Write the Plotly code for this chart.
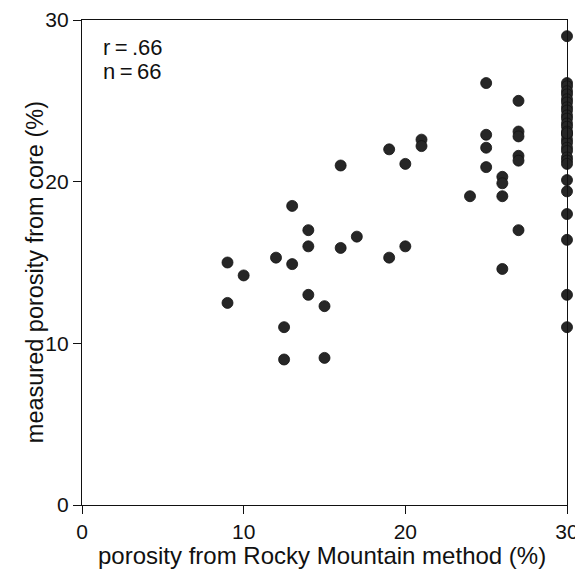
import plotly.graph_objects as go

# Rocky Mountain method porosity (x) and measured core porosity (y)
rocky_x = [9, 9, 10, 12, 12.5, 12.5, 13, 13, 14, 14, 14, 15, 15, 16, 16, 17,
           19, 19, 20, 20, 21, 21, 24, 25, 25, 25, 25, 26, 26, 26, 26,
           27, 27, 27, 27, 27, 27]
core_y = [15.0, 12.5, 14.2, 15.3, 11.0, 9.0, 18.5, 14.9, 17.0, 16.0, 13.0, 12.3, 9.1,
          21.0, 15.9, 16.6, 22.0, 15.3, 21.1, 16.0, 22.6, 22.2, 19.1,
          26.1, 22.9, 22.1, 20.9, 20.3, 19.9, 19.1, 14.6,
          25.0, 23.1, 22.8, 21.6, 21.3, 17.0]

# column of samples at 30 %
col30_y = [29.0, 26.1, 25.9, 25.6, 25.4, 25.1, 24.9, 24.6, 24.4, 24.1, 23.9,
           23.6, 23.4, 23.1, 22.9, 22.6, 22.4, 22.1, 21.9, 21.5, 21.3, 21.1,
           20.1, 19.4, 18.0, 16.4, 13.0, 11.0, 23.0]
col30_x = [30] * len(col30_y)

all_x = rocky_x + col30_x
all_y = core_y + col30_y

x_ticks = [0, 10, 20, 30]
y_ticks = [0, 10, 20, 30]

x_title = "porosity from Rocky Mountain method (%)"
y_title = "measured porosity from core (%)"
stats = ["r\u2009=\u2009.66", "n\u2009=\u200966"]

fig = go.Figure()
fig.add_trace(go.Scatter(
    x=all_x, y=all_y, mode="markers",
    marker=dict(size=11, color="#262626",
                line=dict(color="#111111", width=0.8)),
    cliponaxis=False, showlegend=False,
))

font = "Liberation Sans, Arial, Helvetica, sans-serif"
axis_common = dict(
    range=[0, 30], showgrid=False, zeroline=False, showline=True,
    linecolor="#111111", linewidth=1.3, mirror=True, ticks="outside",
    ticklen=8, tickwidth=1.3, tickcolor="#111111",
    tickfont=dict(size=21), automargin=False,
)

# the page body adds an 8px offset, so the figure is sized to fit inside it
fig.update_layout(
    width=575, height=565,
    margin=dict(l=74, r=16, t=12, b=68),
    paper_bgcolor="white", plot_bgcolor="white",
    font=dict(family=font, color="#111111", size=21),
    xaxis=dict(tickvals=x_ticks, ticktext=[str(v) for v in x_ticks], **axis_common),
    yaxis=dict(tickvals=y_ticks, ticktext=[str(v) for v in y_ticks], **axis_common),
    annotations=[
        dict(x=0.5, y=0, xref="paper", yref="paper", xanchor="center",
             yanchor="middle", yshift=-50, xshift=-3, showarrow=False,
             text=x_title, font=dict(size=24)),
        dict(x=0, y=0.48, xref="paper", yref="paper", xanchor="center",
             yanchor="middle", xshift=-47, showarrow=False, textangle=-90,
             text=y_title, font=dict(size=23.5)),
        dict(x=0, y=1, xref="paper", yref="paper", xanchor="left",
             yanchor="middle", xshift=19, yshift=-27, showarrow=False,
             text=stats[0], font=dict(size=22)),
        dict(x=0, y=1, xref="paper", yref="paper", xanchor="left",
             yanchor="middle", xshift=19, yshift=-51, showarrow=False,
             text=stats[1], font=dict(size=22)),
    ],
)

fig.write_html("out.html")
